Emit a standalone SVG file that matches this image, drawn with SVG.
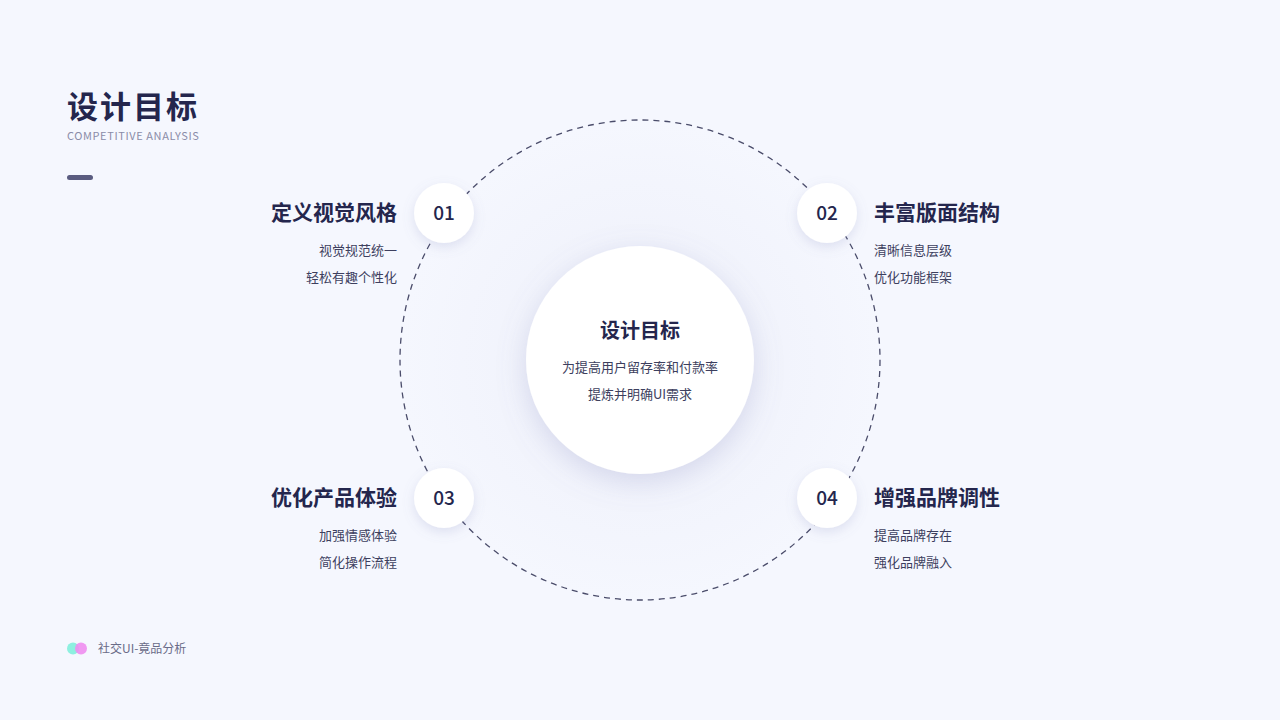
<svg xmlns="http://www.w3.org/2000/svg" width="1280" height="720" viewBox="0 0 1280 720">
<defs>
<style>
text{font-family:"Noto Sans CJK SC","Noto Sans",sans-serif}
.h{font-size:21px;font-weight:700;fill:#24264d}
.s{font-size:13px;fill:#3d3f5e}
.n{font-size:19px;font-weight:500;fill:#24264d;text-anchor:middle}
</style>
<filter id="sh" x="-50%" y="-50%" width="200%" height="200%"><feDropShadow dx="0" dy="8" stdDeviation="14" flood-color="#7a7fb8" flood-opacity="0.25"/></filter>
<filter id="sh2" x="-50%" y="-50%" width="200%" height="200%"><feDropShadow dx="0" dy="4" stdDeviation="6" flood-color="#7a7fb8" flood-opacity="0.2"/></filter>
<radialGradient id="g"><stop offset="0.3" stop-color="#eceef9"/><stop offset="1" stop-color="#f5f7fe"/></radialGradient>
</defs>
<rect width="1280" height="720" fill="#f5f7fe"/>
<circle cx="640" cy="360" r="240" fill="url(#g)" opacity="0.6"/>
<g id="title">
<text x="67" y="118" font-size="31" font-weight="700" fill="#24264d" letter-spacing="2">设计目标</text>
<text x="67" y="140" font-size="11" fill="#8a8ca8" font-family="Noto Sans" letter-spacing="0.6">COMPETITIVE ANALYSIS</text>
<rect x="67" y="175" width="26" height="5" rx="2.5" fill="#5a5c80"/>
</g>
<g id="connectors"><circle cx="640" cy="360" r="240" fill="none" stroke="#4a4c6a" stroke-width="1.3" stroke-dasharray="6 5"/></g>
<g id="center">
<circle cx="640" cy="360" r="114" fill="#fff" filter="url(#sh)"/>
<text x="640" y="338" font-size="20" font-weight="700" fill="#24264d" text-anchor="middle">设计目标</text>
<text x="640" y="372" class="s" text-anchor="middle">为提高用户留存率和付款率</text>
<text x="640" y="399" class="s" text-anchor="middle">提炼并明确UI需求</text>
</g>
<g id="n1"><circle cx="444" cy="213" r="30" fill="#fff" filter="url(#sh2)"/><text x="444" y="220" class="n">01</text>
<text x="397" y="220" class="h" text-anchor="end">定义视觉风格</text>
<text x="397" y="255" class="s" text-anchor="end">视觉规范统一</text><text x="397" y="282" class="s" text-anchor="end">轻松有趣个性化</text></g>
<g id="n2"><circle cx="827" cy="213" r="30" fill="#fff" filter="url(#sh2)"/><text x="827" y="220" class="n">02</text>
<text x="874" y="220" class="h">丰富版面结构</text>
<text x="874" y="255" class="s">清晰信息层级</text><text x="874" y="282" class="s">优化功能框架</text></g>
<g id="n3"><circle cx="444" cy="498" r="30" fill="#fff" filter="url(#sh2)"/><text x="444" y="505" class="n">03</text>
<text x="397" y="505" class="h" text-anchor="end">优化产品体验</text>
<text x="397" y="540" class="s" text-anchor="end">加强情感体验</text><text x="397" y="567" class="s" text-anchor="end">简化操作流程</text></g>
<g id="n4"><circle cx="827" cy="498" r="30" fill="#fff" filter="url(#sh2)"/><text x="827" y="505" class="n">04</text>
<text x="874" y="505" class="h">增强品牌调性</text>
<text x="874" y="540" class="s">提高品牌存在</text><text x="874" y="567" class="s">强化品牌融入</text></g>
<g id="footer">
<circle cx="73" cy="648.5" r="6" fill="#8ef0e0"/><circle cx="81" cy="648.5" r="6" fill="#ef8df0" opacity="0.9"/>
<text x="98" y="653" font-size="12" fill="#6a6c88">社交UI-竟品分析</text>
</g>
</svg>
